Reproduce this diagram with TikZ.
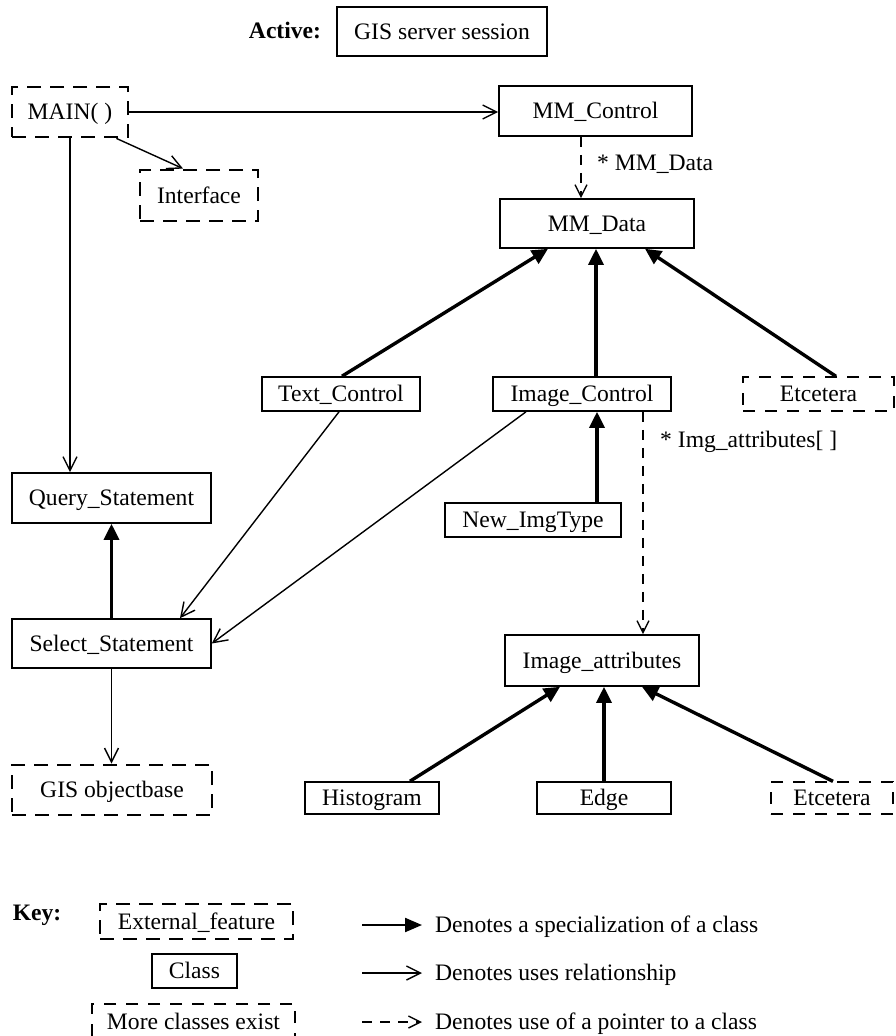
\documentclass[tikz,border=0pt]{standalone}
\usepackage{fontspec}
\setmainfont{Liberation Serif}
\usetikzlibrary{arrows.meta}
\tikzset{
  lbl/.style={font=\fontsize{23.6}{28}\selectfont, inner sep=0pt, text height=15.5pt, text depth=0pt},
  cls/.style={lbl, draw, line width=1.6pt},
  ext/.style={lbl, draw, line width=2.8pt, dash pattern=on 14pt off 9pt},
  more/.style={lbl, draw, line width=1.3pt, dash pattern=on 12pt off 10pt},
  uses/.style={line width=1.4pt, -{Straight Barb[length=14pt,width=14pt,line width=1.4pt]}},
  spec/.style={line width=3.4pt, -{Triangle[length=16pt,width=15pt]}},
  keyspec/.style={line width=2.2pt, -{Triangle[length=17pt,width=14pt]}},
  ptr/.style={line width=1.4pt, dash pattern=on 10pt off 8pt, -{Straight Barb[length=12pt,width=12pt,line width=1.4pt]}},
}
\begin{document}
\begin{tikzpicture}[x=1pt,y=-1pt]
\useasboundingbox (0,0) rectangle (896,1036);

% top
\node[lbl, font=\fontsize{23.6}{28}\selectfont\bfseries] (active) at (285,31) {Active:};
\node[cls, minimum width=210pt, minimum height=49pt] (gis) at (442,31.5) {GIS server session};

\node[ext, minimum width=116pt, minimum height=50pt] (main) at (70,112) {MAIN( )};
\node[ext, minimum width=118pt, minimum height=51pt] (iface) at (199,195.5) {Interface};
\node[cls, minimum width=193pt, minimum height=50pt] (mmc) at (595.5,111) {MM\_Control};
\node[cls, minimum width=194pt, minimum height=49pt] (mmd) at (597,223.5) {MM\_Data};

\node[cls, minimum width=158pt, minimum height=34pt] (textc) at (341,394) {Text\_Control};
\node[cls, minimum width=178pt, minimum height=34pt] (imgc) at (582,394) {Image\_Control};
\node[more, minimum width=151pt, minimum height=34pt] (etc1) at (818.5,394) {Etcetera};

\node[cls, minimum width=199pt, minimum height=50pt] (query) at (111.5,498) {Query\_Statement};
\node[cls, minimum width=176pt, minimum height=34pt] (newimg) at (533,520) {New\_ImgType};
\node[cls, minimum width=199pt, minimum height=49pt] (select) at (111.5,643.5) {Select\_Statement};
\node[cls, minimum width=194pt, minimum height=51pt] (imgattr) at (602,660.5) {Image\_attributes};
\node[ext, minimum width=200pt, minimum height=50pt] (gisob) at (112,790) {GIS objectbase};

\node[cls, minimum width=134pt, minimum height=32pt] (hist) at (372,798) {Histogram};
\node[cls, minimum width=134pt, minimum height=32pt] (edge) at (604,798) {Edge};
\node[more, minimum width=122pt, minimum height=32pt] (etc2) at (832,798) {Etcetera};

% labels
\node[lbl, anchor=west] (lmmd) at (597,163) {* MM\_Data};
\node[lbl, anchor=west] (limg) at (660,440) {* Img\_attributes[ ]};

% connectors
\draw[uses] (main.east) -- (main.east -| mmc.west);
\draw[uses] ([xshift=-13pt]main.south east) -- ([xshift=-16pt]iface.north);
\draw[uses] (main.south) -- (main.south |- query.north);
\draw[ptr] ([xshift=-14.5pt]mmc.south) -- ([xshift=-14.5pt]mmc.south |- mmd.north);

\draw[spec] ([xshift=1pt]textc.north) -- ([xshift=-49pt]mmd.south);
\draw[spec] ([xshift=14pt]imgc.north) -- ([xshift=14pt]imgc.north |- mmd.south);
\draw[spec] ([xshift=17.5pt]etc1.north) -- ([xshift=48pt]mmd.south);
\draw[spec] ([xshift=64pt]newimg.north) -- ([xshift=64pt]newimg.north |- imgc.south);
\draw[ptr] ([xshift=61pt]imgc.south) -- ([xshift=61pt]imgc.south |- imgattr.north);

\draw[uses] ([xshift=-2pt]textc.south) -- ([xshift=68.5pt]select.north);
\draw[uses] ([xshift=-56pt]imgc.south) -- (select.east);
\draw[spec] (select.north) -- (select.north |- query.south);
\draw[uses] (select.south) -- (select.south |- gisob.north);

\draw[spec] ([xshift=38pt]hist.north) -- ([xshift=-42pt]imgattr.south);
\draw[spec] (edge.north) -- (edge.north |- imgattr.south);
\draw[spec] ([xshift=1pt]etc2.north) -- ([xshift=40pt]imgattr.south);

% key
\node[lbl, font=\fontsize{23.6}{28}\selectfont\bfseries] (key) at (37,913) {Key:};
\node[ext, minimum width=193pt, minimum height=35pt] (kext) at (196.5,921.5) {External\_feature};
\node[cls, minimum width=85pt, minimum height=34pt] (kcls) at (194.5,971) {Class};
\node[more, minimum width=203pt, minimum height=36pt] (kmore) at (193.5,1022) {More classes exist};

\coordinate (k1s) at (362,925); \coordinate (k1e) at (422,925);
\coordinate (k2s) at (362,973); \coordinate (k2e) at (422,973);
\coordinate (k3s) at (362,1022); \coordinate (k3e) at (422,1022);
\draw[keyspec] (k1s) -- (k1e);
\draw[uses] (k2s) -- (k2e);
\draw[ptr] (k3s) -- (k3e);
\node[lbl, anchor=west] (t1) at (435,925) {Denotes a specialization of a class};
\node[lbl, anchor=west] (t2) at (435,973) {Denotes uses relationship};
\node[lbl, anchor=west] (t3) at (435,1022) {Denotes use of a pointer to a class};
\end{tikzpicture}
\end{document}
